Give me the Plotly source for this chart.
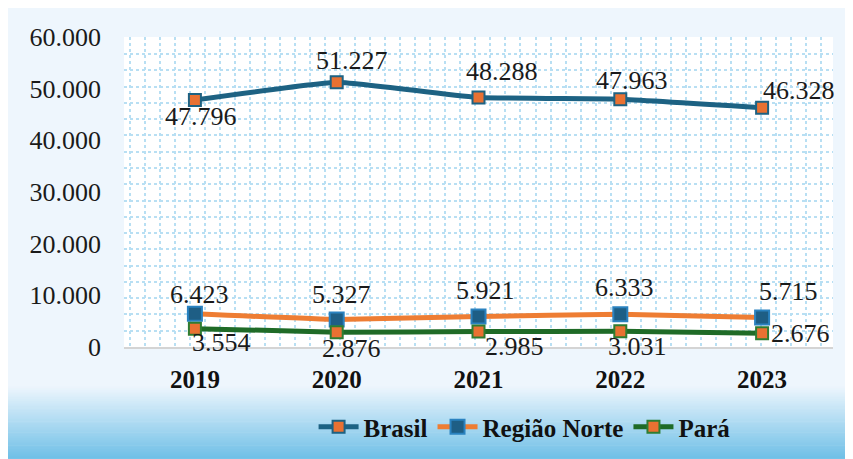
import plotly.graph_objects as go

years = ["2019", "2020", "2021", "2022", "2023"]
brasil = [47796, 51227, 48288, 47963, 46328]
regiao_norte = [6423, 5327, 5921, 6333, 5715]
para = [3554, 2876, 2985, 3031, 2676]

y_ticks = [0, 10000, 20000, 30000, 40000, 50000, 60000]

# label offsets in px (style only): (dx right, dy down)
brasil_off = [(6, 16), (15, -22), (23, -26), (12, -19), (37, -17)]
norte_off = [(5, -19), (5, -25), (7, -26), (4, -27), (26, -26)]
para_off = [(27, 14), (15, 16), (36, 15), (17, 15), (38, 0)]

FONT = "Liberation Serif"
NUM_SIZE = 26
BOLD_SIZE = 25
xs = list(range(len(years)))

fig = go.Figure()

fig.add_trace(go.Scatter(
    x=xs, y=brasil, name="<b>Brasil</b>", mode="lines+markers",
    line=dict(color="#1d6283", width=5, shape="spline", smoothing=0.3),
    marker=dict(symbol="square", size=12, color="#e97132",
                line=dict(color="#1d6283", width=2)),
))
fig.add_trace(go.Scatter(
    x=xs, y=regiao_norte, name="<b>Região Norte</b>", mode="lines+markers",
    line=dict(color="#ee7d33", width=5, shape="spline", smoothing=0.3),
    marker=dict(symbol="square", size=14, color="#1e5e85",
                line=dict(color="#2a82c0", width=2)),
))
fig.add_trace(go.Scatter(
    x=xs, y=para, name="<b>Pará</b>", mode="lines+markers",
    line=dict(color="#1f6b27", width=5, shape="spline", smoothing=0.3),
    marker=dict(symbol="square", size=12, color="#e97132",
                line=dict(color="#2e7d32", width=2)),
))

def fmt(v):
    return f"{v:,}".replace(",", ".")

annotations = []
for series, offs in ((brasil, brasil_off), (regiao_norte, norte_off), (para, para_off)):
    for i, v in enumerate(series):
        annotations.append(dict(
            x=xs[i], y=v, xref="x", yref="y", text=fmt(v), showarrow=False,
            xanchor="center", yanchor="middle",
            xshift=offs[i][0], yshift=-offs[i][1],
            font=dict(family=FONT, size=NUM_SIZE, color="#1a1a1a"),
        ))

# the page body adds an 8px offset; figure is 845x451
W, H = 845, 451
OFF = 8
L, R, T, B = 124 - OFF, 853 - 833, 37 - OFF, 459 - 347
PW, PH = W - L - R, H - T - B

def px_y(p):
    return (H - B - (p - OFF)) / PH

shapes = []
n = 40
top_px, bot_px = 386, 460
c0 = (0xee, 0xf6, 0xfd)
c1 = (0x6c, 0xbe, 0xe6)
for k in range(n):
    t = (k + 0.5) / n
    col = tuple(int(round(c0[j] + (c1[j] - c0[j]) * t)) for j in range(3))
    ya = top_px + (bot_px - top_px) * k / n
    yb = top_px + (bot_px - top_px) * (k + 1) / n + 0.6
    shapes.append(dict(type="rect", xref="paper", yref="paper",
                       x0=-L / PW - 0.01, x1=1 + R / PW + 0.01, y0=px_y(yb), y1=px_y(ya),
                       fillcolor="rgb(%d,%d,%d)" % col, line=dict(width=0), layer="below"))

fig.update_layout(
    width=W, height=H,
    margin=dict(l=L, r=R, t=T, b=B, autoexpand=False),
    paper_bgcolor="#eef6fd",
    plot_bgcolor="white",
    separators=",.",
    font=dict(family=FONT, size=NUM_SIZE, color="#1a1a1a"),
    xaxis=dict(
        range=[-0.5, 4.5], tickmode="array", tickvals=xs,
        ticktext=["<b>%s</b>" % y for y in years],
        tickfont=dict(family=FONT, size=BOLD_SIZE, color="#111111"),
        showgrid=False, zeroline=False, showline=True, linecolor="#d4d4d4", linewidth=2,
        ticks="", ticklabelstandoff=9, automargin=False,
        minor=dict(showgrid=True, dtick=0.106, tick0=-0.46, gridcolor="#b8dff3",
                   griddash="dot", gridwidth=2),
        fixedrange=True,
    ),
    yaxis=dict(
        range=[0, 60000], tickvals=y_ticks, tickformat=",d",
        tickfont=dict(family=FONT, size=NUM_SIZE, color="#1a1a1a"),
        showgrid=False, zeroline=False, showline=False,
        ticks="", ticklabelstandoff=22, automargin=False,
        minor=dict(showgrid=True, dtick=3150, tick0=0, gridcolor="#b8dff3",
                   griddash="dot", gridwidth=2),
        fixedrange=True,
    ),
    legend=dict(
        orientation="h", x=0.565, xanchor="center", y=px_y(427), yanchor="middle",
        font=dict(family=FONT, size=BOLD_SIZE, color="#111111"),
        bgcolor="rgba(0,0,0,0)", itemwidth=40,
    ),
    showlegend=True,
    annotations=annotations,
    shapes=shapes,
)

fig.write_html("out.html")
